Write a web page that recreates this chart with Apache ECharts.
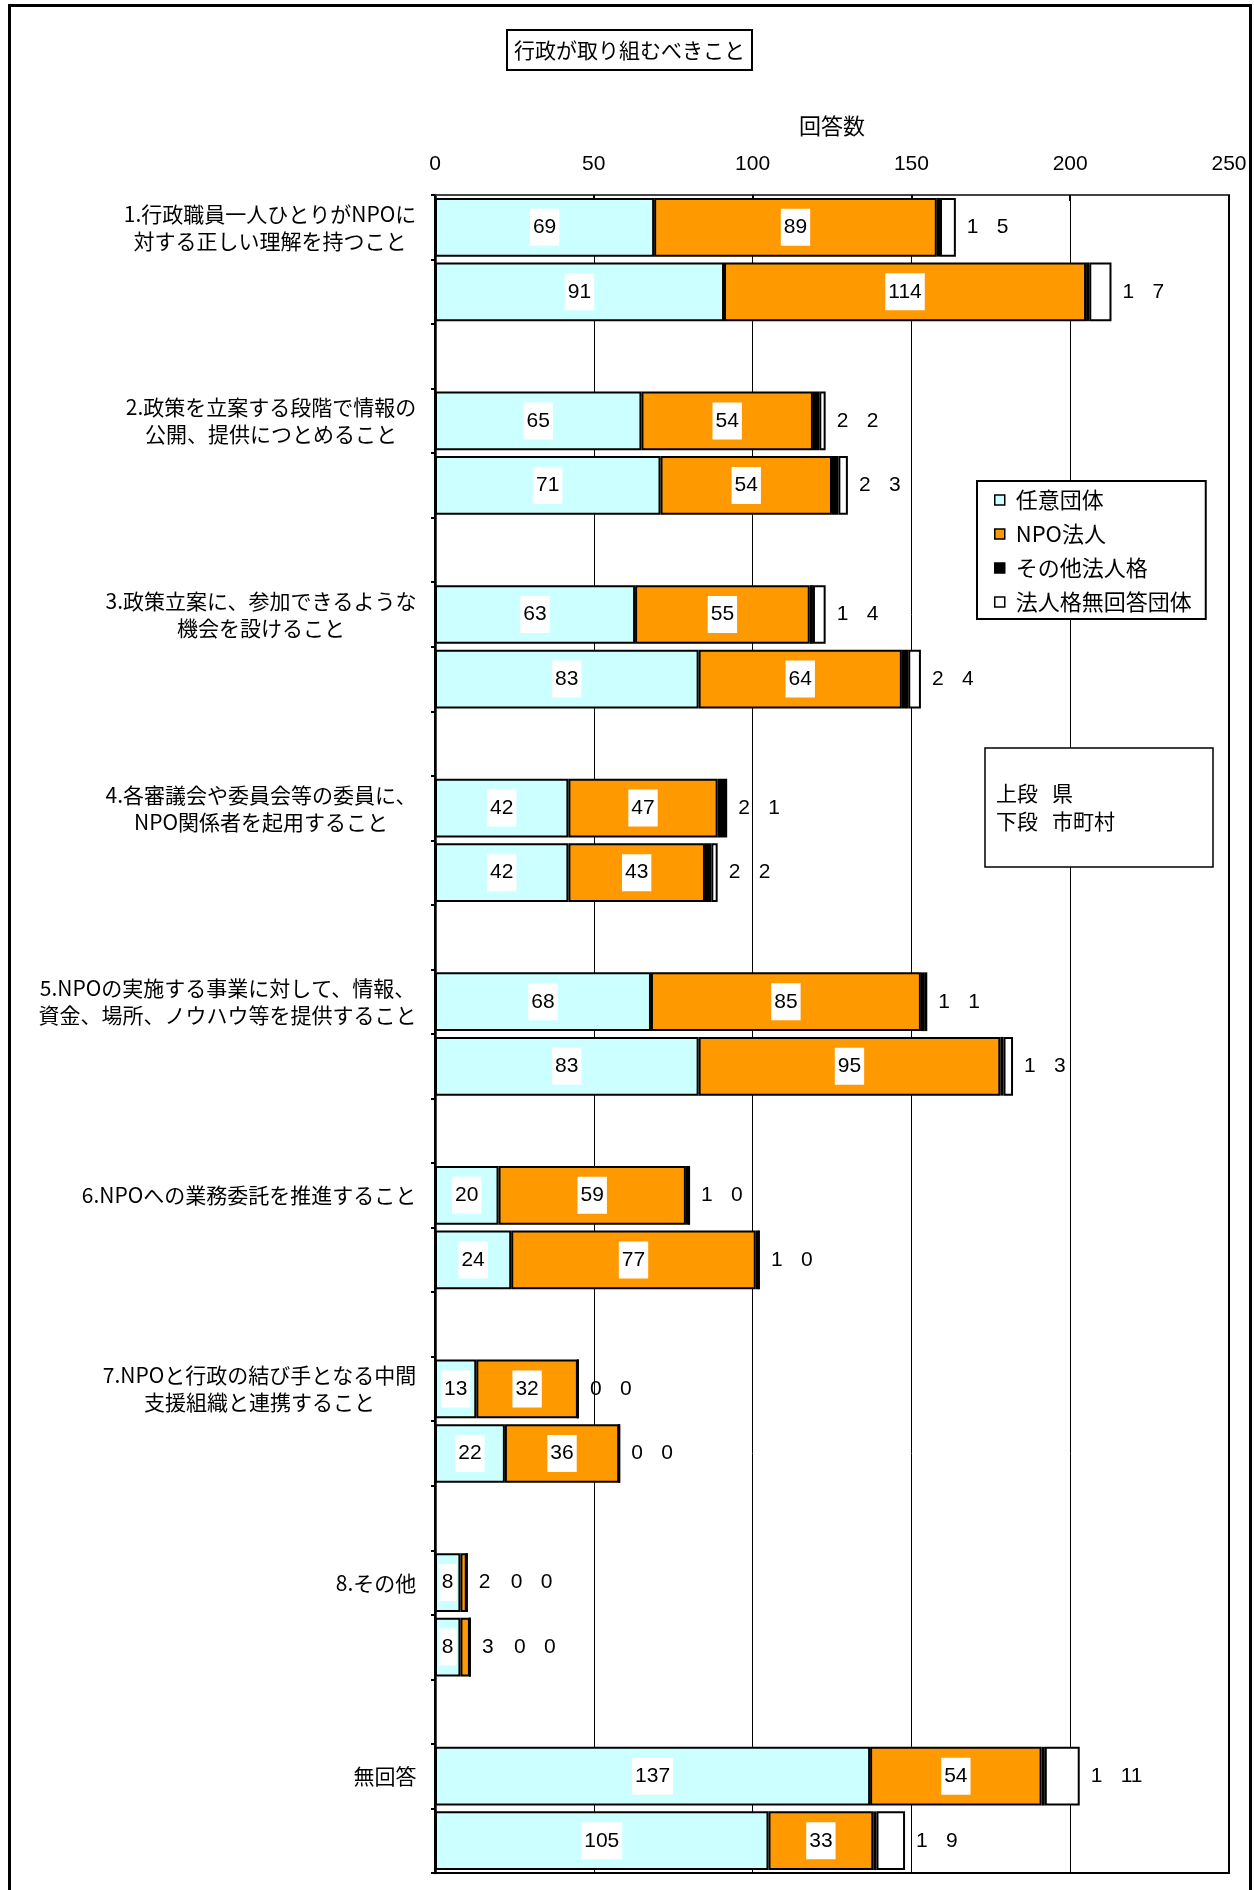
<!DOCTYPE html>
<html><head><meta charset="utf-8">
<script src="https://cdn.jsdelivr.net/npm/echarts@6/dist/echarts.min.js"></script>
<style>html,body{margin:0;padding:0;background:#fff}#c{width:1254px;height:1890px}</style>
</head><body><div id="c"></div>
<script>
const categories = [
  '1.行政職員一人ひとりがNPOに\n対する正しい理解を持つこと',
  '2.政策を立案する段階で情報の\n公開、提供につとめること',
  '3.政策立案に、参加できるような\n機会を設けること',
  '4.各審議会や委員会等の委員に、\nNPO関係者を起用すること',
  '5.NPOの実施する事業に対して、情報、\n資金、場所、ノウハウ等を提供すること',
  '6.NPOへの業務委託を推進すること',
  '7.NPOと行政の結び手となる中間\n支援組織と連携すること',
  '8.その他',
  '無回答'
];
const seriesNames = ['任意団体', 'NPO法人', 'その他法人格', '法人格無回答団体'];
// 上段 県
const prefNinni = [69, 65, 63, 42, 68, 20, 13, 8, 137];
const prefNpo   = [89, 54, 55, 47, 85, 59, 32, 2, 54];
const prefOther = [1, 2, 1, 2, 1, 1, 0, 0, 1];
const prefNone  = [5, 2, 4, 1, 1, 0, 0, 0, 11];
// 下段 市町村
const muniNinni = [91, 71, 83, 42, 83, 24, 22, 8, 105];
const muniNpo   = [114, 54, 64, 43, 95, 77, 36, 3, 33];
const muniOther = [1, 2, 2, 2, 1, 1, 0, 0, 1];
const muniNone  = [7, 3, 4, 2, 3, 0, 0, 0, 9];
const xTicks = [0, 50, 100, 150, 200, 250];

const SMALL_NPO = 5;
const rowLabels = [], rowIds = [], rA = [], rB = [], rC = [], rD = [];
categories.forEach((c, i) => {
  rowLabels.push(c); rA.push(prefNinni[i]); rB.push(prefNpo[i]); rC.push(prefOther[i]); rD.push(prefNone[i]);
  rowLabels.push(''); rA.push(muniNinni[i]); rB.push(muniNpo[i]); rC.push(muniOther[i]); rD.push(muniNone[i]);
  if (i < categories.length - 1) { rowLabels.push(''); rA.push(null); rB.push(null); rC.push(null); rD.push(null); }
});
rowLabels.forEach((_, i) => rowIds.push('row' + i));

const CJK = 'Noto Sans CJK JP';
const NUM = 'Liberation Sans';
const CAT_FS = 21;

// rich styles so that each multi-line label is centred on its own longest line
const measureCtx = document.createElement('canvas').getContext('2d');
measureCtx.font = CAT_FS + 'px "' + CJK + '"';
const catRich = {};
rowLabels.forEach((lab, i) => {
  if (!lab) return;
  const w = Math.max(...lab.split('\n').map(l => measureCtx.measureText(l).width));
  catRich['L' + i] = { width: Math.ceil(w) + 1, align: 'center', fontSize: CAT_FS, fontFamily: CJK, lineHeight: 27, color: '#000' };
});

const boxStyle = { backgroundColor: '#fff', padding: [8, 3, 8, 3], fontSize: 21, fontFamily: NUM, color: '#000' };
const insideLabel = (minVal) => ({
  show: true, position: 'inside',
  formatter: p => (p.value == null || p.value < minVal) ? '' : '{b|' + p.value + '}',
  rich: { b: boxStyle }
});
const border = { borderColor: '#000', borderWidth: 2 };

const chart = echarts.init(document.getElementById('c'), null, { renderer: 'canvas' });
chart.setOption({
  animation: false,
  backgroundColor: '#fff',
  grid: { left: 435, top: 195, width: 794, height: 1678, show: true, borderColor: '#000', borderWidth: 2, containLabel: false },
  xAxis: {
    type: 'value', position: 'top', min: xTicks[0], max: xTicks[xTicks.length - 1], interval: xTicks[1] - xTicks[0],
    name: '回答数', nameLocation: 'middle', nameGap: 58,
    nameTextStyle: { fontSize: 22, fontFamily: CJK, color: '#000' },
    axisLine: { show: true, lineStyle: { color: '#444', width: 2 } },
    axisTick: { show: true, inside: true, length: 6, lineStyle: { color: '#000', width: 2 } },
    axisLabel: { fontSize: 21, fontFamily: NUM, color: '#000', margin: 20 },
    splitLine: { show: true, lineStyle: { color: '#000', width: 1 } }
  },
  yAxis: {
    type: 'category', inverse: true, data: rowIds,
    axisLine: { show: true, lineStyle: { color: '#000', width: 2.5 } },
    axisTick: { show: true, interval: 0, length: 4, lineStyle: { color: '#000', width: 2 } },
    axisLabel: {
      interval: 0, margin: 18, fontSize: CAT_FS, lineHeight: 27, fontFamily: CJK, color: '#000', align: 'right',
      formatter: (v, i) => rowLabels[i] ? rowLabels[i].split('\n').map(l => '{L' + i + '|' + l + '}').join('\n') : '',
      rich: catRich
    },
    splitLine: { show: false }
  },
  legend: {
    data: seriesNames, orient: 'vertical', left: 977, top: 481,
    padding: [8, 14, 6, 17], itemGap: 12, itemWidth: 10, itemHeight: 10, icon: 'rect',
    backgroundColor: '#fff', borderColor: '#000', borderWidth: 2, borderRadius: 0,
    selectedMode: false,
    textStyle: { fontSize: 22, fontFamily: CJK, color: '#000', padding: [0, 0, 0, 6] },
    itemStyle: { borderColor: '#000', borderWidth: 1.5 }
  },
  series: [
    { name: seriesNames[0], type: 'bar', stack: 'all', data: rA, barCategoryGap: '9%',
      itemStyle: Object.assign({ color: '#CCFFFF' }, border),
      label: insideLabel(0) },
    { name: seriesNames[1], type: 'bar', stack: 'all', data: rB, barCategoryGap: '9%',
      itemStyle: Object.assign({ color: '#FF9900' }, border),
      label: insideLabel(SMALL_NPO) },
    { name: seriesNames[2], type: 'bar', stack: 'all', data: rC, barCategoryGap: '9%',
      itemStyle: Object.assign({ color: '#000000' }, border) },
    { name: seriesNames[3], type: 'bar', stack: 'all', data: rD, barCategoryGap: '9%',
      itemStyle: Object.assign({ color: '#FFFFFF' }, border),
      label: {
        show: true, position: 'right', distance: 11, color: '#000', fontSize: 21, fontFamily: NUM,
        formatter: p => {
          const i = p.dataIndex;
          if (rD[i] == null) return '';
          let s = '';
          if (rB[i] < SMALL_NPO) s += '{n|' + rB[i] + '}';
          s += '{o|' + rC[i] + '}{d|' + rD[i] + '}';
          return s;
        },
        rich: {
          n: { width: 32, fontSize: 21, fontFamily: NUM, color: '#000' },
          o: { width: 30, fontSize: 21, fontFamily: NUM, color: '#000' },
          d: { fontSize: 21, fontFamily: NUM, color: '#000' }
        }
      } }
  ],
  graphic: [
    { type: 'rect', z: 100, shape: { x: 507, y: 30, width: 245, height: 40 }, style: { fill: '#fff', stroke: '#000', lineWidth: 2 } },
    { type: 'text', z: 101, x: 629.5, y: 50, style: { text: '行政が取り組むべきこと', fontSize: 21, fontFamily: CJK, fill: '#000', align: 'center', verticalAlign: 'middle' } },
    { type: 'rect', z: 100, shape: { x: 985, y: 748, width: 228, height: 119 }, style: { fill: '#fff', stroke: '#000', lineWidth: 1.5 } },
    { type: 'text', z: 101, x: 996, y: 793, style: { text: '上段   県', fontSize: 21, fontFamily: CJK, fill: '#000', align: 'left', verticalAlign: 'middle' } },
    { type: 'text', z: 101, x: 996, y: 821, style: { text: '下段   市町村', fontSize: 21, fontFamily: CJK, fill: '#000', align: 'left', verticalAlign: 'middle' } },
    { type: 'rect', z: 100, shape: { x: 9.5, y: 5.5, width: 1241, height: 1900 }, style: { fill: 'none', stroke: '#000', lineWidth: 3 } }
  ]
});
</script></body></html>
